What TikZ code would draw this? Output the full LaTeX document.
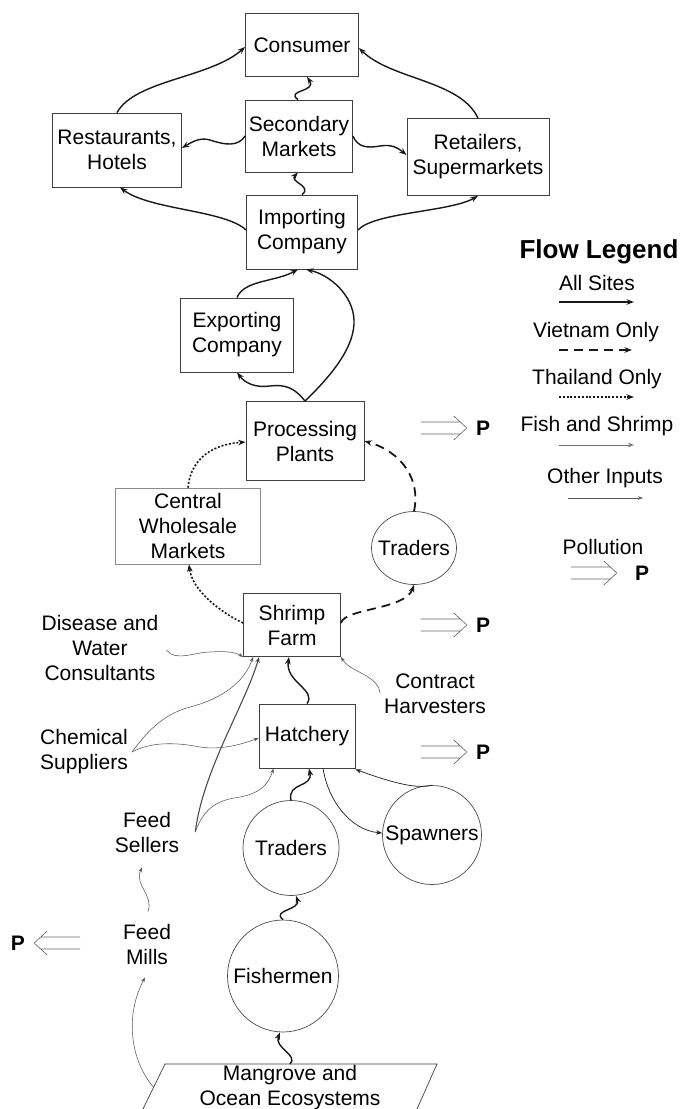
\documentclass[tikz,border=0pt]{standalone}
\usepackage{fontspec}
\setmainfont{Liberation Sans}
\usetikzlibrary{arrows.meta,shapes.geometric,calc}
\begin{document}
\begin{tikzpicture}[x=1pt,y=-1pt,
  txt/.style={font=\fontsize{21}{25}\selectfont, align=center, inner sep=2pt},
  box/.style={txt, draw=black!75, line width=0.8pt, rectangle, inner sep=0pt},
  ell/.style={draw=black!70, line width=0.7pt, ellipse, inner sep=0pt},
  flow/.style={line width=1.4pt, black!90, -{Stealth[length=7.5pt,width=5.5pt]}},
  vn/.style={flow, line width=1.8pt, dash pattern=on 9pt off 6pt},
  th/.style={flow, line width=1.6pt, dash pattern=on 2pt off 1.8pt},
  inp/.style={line width=0.55pt, black!65, -{Stealth[length=5pt,width=3.5pt]}},
  fs/.style={line width=1.1pt, black!70, -{Stealth[length=6pt,width=4.5pt]}},
  thintwo/.style={line width=0.75pt, black!85, -{Stealth[length=6pt,width=4.5pt]}},
  pfont/.style={font=\bfseries\fontsize{21}{25}\selectfont, inner sep=0pt},
  pics/pollu/.style={code={
    \draw[line width=0.6pt, black!60] (-46,-6) -- (-6.5,-6) (-46,6) -- (-6.5,6) (-13,-12) -- (0,0) -- (-13,12);
  }}
]
\path[use as bounding box, fill=white] (0,0) rectangle (680,1109);

% ---------- nodes ----------
\node[box, minimum width=113, minimum height=63] (cons) at (302,45) {Consumer};
\node[box, minimum width=107, minimum height=72] (sec) at (299,136) {Secondary\\Markets};
\node[box, minimum width=129, minimum height=74] (rest) at (117,150) {Restaurants,\\Hotels};
\node[box, minimum width=142, minimum height=77] (ret) at (478,157) {Retailers,\\Supermarkets};
\node[box, minimum width=111, minimum height=74] (imp) at (302,232) {Importing\\Company};
\node[box, minimum width=113, minimum height=74] (exp) at (237,335) {Exporting\\Company};
\node[box, minimum width=118, minimum height=79] (proc) at (305,441) {Processing\\Plants};
\node[box, draw=black!45, line width=0.6pt, minimum width=145, minimum height=76] (cwm) at (188,526) {Central\\Wholesale\\Markets};
\node[ell, minimum width=85, minimum height=73, label={[txt]center:Traders}] (tr1) at (414,548) {};
\node[box, minimum width=97, minimum height=63] (farm) at (292,625) {Shrimp\\Farm};
\node[box, minimum width=96, minimum height=64] (hatch) at (307,736) {Hatchery};
\node[ell, minimum width=96, minimum height=95, label={[txt]center:Traders}] (tr2) at (291,848) {};
\node[ell, minimum width=99, minimum height=99, label={[txt]center:Spawners}] (spawn) at (432,835) {};
\node[ell, minimum width=111, minimum height=112, label={[txt]center:Fishermen}] (fish) at (283,976) {};

\node[txt] (dis) at (100,648) {Disease and\\Water\\Consultants};
\node[txt] (harv) at (435,694) {Contract\\Harvesters};
\node[txt] (chem) at (84,752) {Chemical\\Suppliers};
\node[txt] (feeds) at (147,832) {Feed\\Sellers};
\node[txt] (mills) at (147,944) {Feed\\Mills};

% mangrove parallelogram (cut by the page edge)
\draw[line width=0.7pt, black!75] (143,1109) -- (165,1064) -- (437,1064) -- (417,1109);
\node[txt] (mang) at (290,1088) {Mangrove and\\Ocean Ecosystems};
\coordinate (mangtop) at (290,1064);
\coordinate (mangleft) at (153.5,1087);

% ---------- connectors: market ----------
\draw[flow] (rest.north) .. controls (135,80) and (210,78) .. ($(cons.west)+(0,2)$);
\draw[flow] (ret.north) .. controls (460,80) and (392,80) .. ($(cons.east)+(0,3)$);
\draw[flow] ($(sec.north)+(-1,0)$) .. controls (285,90) and (317,92) .. ($(cons.south)+(5,0)$);
\draw[flow] (sec.west) .. controls (238,147) and (225,145) .. (210,140) .. controls (200,137) and (192,142) .. ($(rest.east)+(0,-2)$);
\draw[flow] (sec.east) .. controls (358,148) and (368,148) .. (380,146) .. controls (392,144) and (398,148) .. ($(ret.west)+(0,-2)$);
\draw[flow] (imp.north) .. controls (313,186) and (289,182) .. ($(sec.south)+(-1,0)$);
\draw[flow] ($(imp.west)+(0,-2)$) .. controls (225,210) and (150,210) .. ($(rest.south)+(3,0)$);
\draw[flow] ($(imp.east)+(0,-2)$) .. controls (375,212) and (450,212) .. (ret.south);
\draw[flow] (exp.north) .. controls (244,280) and (275,282) .. ($(imp.south)+(-4,0)$);
\draw[flow] (proc.north) .. controls (335,372) and (355,345) .. (354,320) .. controls (353,295) and (330,275) .. ($(imp.south)+(4,0)$);
\draw[flow] (proc.north) .. controls (295,388) and (285,384) .. (270,386) .. controls (255,388) and (245,383) .. (exp.south);

% ---------- connectors: farm ----------
\draw[th] (cwm.north) .. controls (190,465) and (205,445) .. ($(proc.west)+(0,1)$);
\draw[vn] (tr1.north) .. controls (421,480) and (402,452) .. (proc.east);
\draw[th] ($(farm.west)+(0,-2)$) .. controls (220,612) and (192,590) .. ($(cwm.south)+(1,0)$);
\draw[vn] ($(farm.east)+(0,-2)$) .. controls (345,608) and (405,610) .. (tr1.south);
\draw[flow] (hatch.north) .. controls (317,690) and (285,682) .. ($(farm.south)+(-3,0)$);

\draw[inp] ($(dis.east)+(6,2)$) .. controls (175,662) and (195,652) .. (210,652) .. controls (225,651) and (235,652) .. (farm.south west);
\draw[inp] ($(harv.west)+(-2,-1)$) .. controls (378,675) and (350,672) .. (farm.south east);
\coordinate (chemsrc) at ($(chem.east)+(2,0)$);
\draw[inp] (chemsrc) .. controls (145,735) and (160,715) .. (190,707) .. controls (225,698) and (245,680) .. ($(farm.south west)+(10,0)$);
\draw[inp] (chemsrc) .. controls (150,742) and (175,742) .. (200,747) .. controls (220,750) and (240,745) .. ($(hatch.west)+(0,2)$);
\coordinate (feedsrc) at ($(feeds.east)+(14,0)$);
\draw[fs] (feedsrc) .. controls (203,770) and (245,705) .. ($(farm.south west)+(16,0)$);
\draw[inp] (feedsrc) .. controls (205,805) and (220,800) .. (240,797) .. controls (260,793) and (268,785) .. ($(hatch.south west)+(15,0)$);
\draw[inp] ($(mills.north)+(1,-10)$) .. controls (154,895) and (134,885) .. ($(feeds.south)+(-5,13)$);
\draw[inp] (mangleft) .. controls (130,1060) and (125,1015) .. ($(mills.south)+(-2,11)$);

\draw[flow] (mangtop) .. controls (299,1055) and (274,1048) .. ($(fish.south)+(-3,0)$);
\draw[flow] (fish.north) .. controls (271,910) and (301,910) .. ($(tr2.south)+(5,0)$);
\draw[flow] (tr2.north) .. controls (287,782) and (313,788) .. ($(hatch.south)+(2,0)$);
\draw[thintwo] ($(hatch.south)+(16,0)$) .. controls (328,800) and (350,830) .. ($(spawn.west)+(0,-2)$);
\draw[thintwo] (spawn.north) .. controls (415,790) and (385,780) .. ($(hatch.south east)+(0,1)$);

% ---------- pollution ----------
\node[pfont] (p1) at (483,428) {P};
\pic at ($(p1.west)+(-9,0)$) {pollu};
\node[pfont] (p2) at (483,625) {P};
\pic at ($(p2.west)+(-9,0)$) {pollu};
\node[pfont] (p3) at (483,752) {P};
\pic at ($(p3.west)+(-9,0)$) {pollu};
\node[pfont] (p4) at (18,943) {P};
\pic[xscale=-1] at ($(p4.east)+(9,0)$) {pollu};

% ---------- legend ----------
\node[font=\bfseries\fontsize{26}{30}\selectfont, inner sep=0pt] (leg) at (599,252) {Flow Legend};
\node[txt] (lall) at (597,283) {All Sites};
\node[txt] (lvn) at (596,332) {Vietnam Only};
\node[txt] (lth) at (597,379) {Thailand Only};
\node[txt] (lfs) at (597,426) {Fish and Shrimp};
\node[txt] (loi) at (605,478) {Other Inputs};
\node[txt] (lpol) at (603,547) {Pollution};
\coordinate (a1) at (559,302); \coordinate (b1) at (634,302);
\coordinate (a2) at (559,350); \coordinate (b2) at (632,350);
\coordinate (a3) at (559,397); \coordinate (b3) at (634,397);
\coordinate (a4) at (559,445); \coordinate (b4) at (634,445);
\coordinate (a5) at (568,498); \coordinate (b5) at (643,498);
\draw[flow] (a1) -- (b1);
\draw[vn] (a2) -- (b2);
\draw[th] (a3) -- (b3);
\draw[fs, black!55, line width=1pt] (a4) -- (b4);
\draw[inp] (a5) -- (b5);
\node[pfont] (p5) at (642,573) {P};
\pic at ($(p5.west)+(-18,0)$) {pollu};
\end{tikzpicture}
\end{document}
